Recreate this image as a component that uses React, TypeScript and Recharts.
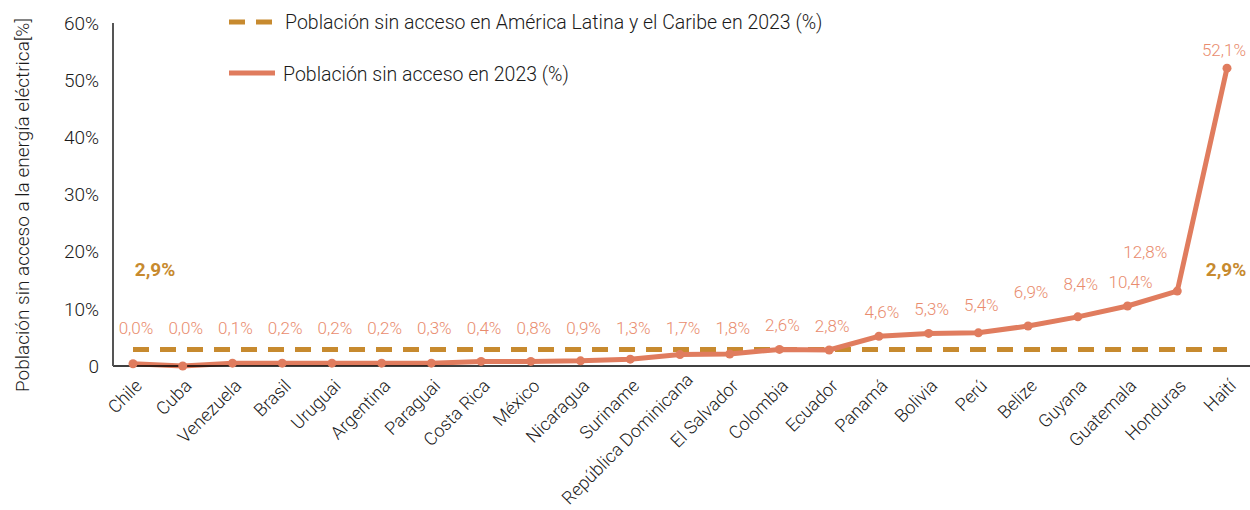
import React from "react";
import { LineChart, Line, XAxis, YAxis, Legend, LabelList } from "recharts";

const countries = [
  "Chile", "Cuba", "Venezuela", "Brasil", "Uruguai", "Argentina", "Paraguai",
  "Costa Rica", "México", "Nicaragua", "Suriname", "República Dominicana",
  "El Salvador", "Colombia", "Ecuador", "Panamá", "Bolivia", "Perú", "Belize",
  "Guyana", "Guatemala", "Honduras", "Haití",
];
const plottedValues = [
  0.4, 0.0, 0.5, 0.5, 0.5, 0.5, 0.5, 0.8, 0.8, 0.9, 1.2, 2.0, 2.1, 2.9, 2.8,
  5.2, 5.7, 5.8, 7.0, 8.6, 10.5, 13.1, 52.1,
];
const valueLabels = [
  "0,0%", "0,0%", "0,1%", "0,2%", "0,2%", "0,2%", "0,3%", "0,4%", "0,8%", "0,9%",
  "1,3%", "1,7%", "1,8%", "2,6%", "2,8%", "4,6%", "5,3%", "5,4%", "6,9%", "8,4%",
  "10,4%", "12,8%", "52,1%",
];
const regionalAverage = 2.9;
const regionalAverageLabel = "2,9%";
const yTicks = [0, 10, 20, 30, 40, 50, 60];
const seriesNames = {
  avg: "Población sin acceso en América Latina y el Caribe en 2023 (%)",
  country: "Población sin acceso en 2023 (%)",
};
const yTitle = "Población sin acceso a la energía eléctrica[%]";

const data = countries.map((c, i) => ({
  country: c,
  value: plottedValues[i],
  label: valueLabels[i],
  avg: regionalAverage,
}));

const FONT = "Roboto, 'Noto Sans', sans-serif";
const LINE_COLOR = "#E07C5E";
const LABEL_COLOR = "#E98C6E";
const AVG_COLOR = "#C78A2F";
const TEXT = "#1a1a1a";
const W = 300;

const nudges: Record<string, { dx: number; dy: number }> = {
  "Perú": { dx: 0, dy: -4 },
  "Belize": { dx: 0, dy: -10 },
  "Guyana": { dx: 0, dy: -9 },
  "Honduras": { dx: -35, dy: -15 },
  "Haití": { dx: -6, dy: 6 },
};

const ValueLabel = (props: any) => {
  const { x, y, index } = props;
  const name = countries[index];
  const n = nudges[name] || { dx: 0, dy: 0 };
  const cy = Math.min(328, y - 24) + n.dy;
  return (
    <text
      x={x + 3 + n.dx}
      y={cy}
      dy="0.35em"
      textAnchor="middle"
      fill={LABEL_COLOR}
      fontSize={17}
      fontWeight={W}
      fontFamily={FONT}
    >
      {valueLabels[index]}
    </text>
  );
};

const AvgLabel = (props: any) => {
  const { x, y, index } = props;
  if (index !== 0 && index !== countries.length - 1) return null;
  const dx = index === 0 ? 22 : -1;
  return (
    <text
      x={x + dx}
      y={y - 80}
      dy="0.35em"
      textAnchor="middle"
      fill={AVG_COLOR}
      fontSize={19}
      fontWeight={700}
      fontFamily={FONT}
    >
      {regionalAverageLabel}
    </text>
  );
};

const XTick = (props: any) => {
  const { x, y, payload } = props;
  const long = String(payload.value).length > 15;
  const ax = x + (long ? 14 : 10);
  const ay = y + (long ? 7 : 13);
  return (
    <text
      x={ax}
      y={ay}
      transform={`rotate(-45, ${ax}, ${ay})`}
      textAnchor="end"
      fill={TEXT}
      fontSize={18}
      fontWeight={W}
      fontFamily={FONT}
    >
      {payload.value}
    </text>
  );
};

const LegendContent = () => (
  <svg width={660} height={90}>
    <line x1={4} x2={50} y1={14} y2={14} stroke={AVG_COLOR} strokeWidth={5} strokeDasharray="16 11" />
    <text x={60} y={14} dy="0.35em" fontSize={19.5} fontWeight={W} fontFamily={FONT} fill={TEXT}>
      {seriesNames.avg}
    </text>
    <line x1={4} x2={50} y1={65} y2={65} stroke={LINE_COLOR} strokeWidth={5} />
    <text x={58} y={66} dy="0.35em" fontSize={19.5} fontWeight={W} fontFamily={FONT} fill={TEXT}>
      {seriesNames.country}
    </text>
  </svg>
);

export default function App() {
  return (
    <div style={{ position: "absolute", left: 0, top: 0, width: 1250, height: 510, background: "#fff" }}>
      <LineChart
        width={1250}
        height={510}
        data={data}
        margin={{ top: 23, right: 0, bottom: 0, left: 0 }}
      >
        <XAxis
          dataKey="country"
          interval={0}
          padding={{ left: 20, right: 23 }}
          height={144}
          tickLine={false}
          axisLine={{ stroke: "#000", strokeWidth: 1.5 }}
          tick={<XTick />}
        />
        <YAxis
          domain={[0, 60]}
          ticks={yTicks}
          width={113}
          tickLine={false}
          tickMargin={8}
          axisLine={{ stroke: "#555", strokeWidth: 2 }}
          tick={{ fontSize: 19, fontWeight: W, fontFamily: FONT, fill: TEXT }}
          tickFormatter={(v: number) => (v === 0 ? "0" : `${v}%`)}
          label={() => {
            const cx = 22;
            const cy = 205;
            return (
              <text
                x={cx}
                y={cy}
                transform={`rotate(-90, ${cx}, ${cy})`}
                textAnchor="middle"
                dy="0.35em"
                fontSize={19}
                fontWeight={W}
                fontFamily={FONT}
                fill={TEXT}
              >
                {yTitle}
              </text>
            );
          }}
        />
        <Legend
          layout="vertical"
          align="center"
          verticalAlign="middle"
          wrapperStyle={{ top: 8, left: 225, width: 660, height: 90 }}
          content={<LegendContent />}
        />
        <Line
          dataKey="avg"
          name={seriesNames.avg}
          stroke={AVG_COLOR}
          strokeWidth={5}
          strokeDasharray="16 11"
          dot={false}
          activeDot={false}
          isAnimationActive={false}
        >
          <LabelList dataKey="avg" content={<AvgLabel />} />
        </Line>
        <Line
          dataKey="value"
          name={seriesNames.country}
          stroke={LINE_COLOR}
          strokeWidth={5}
          dot={{ r: 4.5, fill: LINE_COLOR, stroke: LINE_COLOR, strokeWidth: 0 }}
          activeDot={false}
          isAnimationActive={false}
        >
          <LabelList dataKey="value" content={<ValueLabel />} />
        </Line>
      </LineChart>
    </div>
  );
}
